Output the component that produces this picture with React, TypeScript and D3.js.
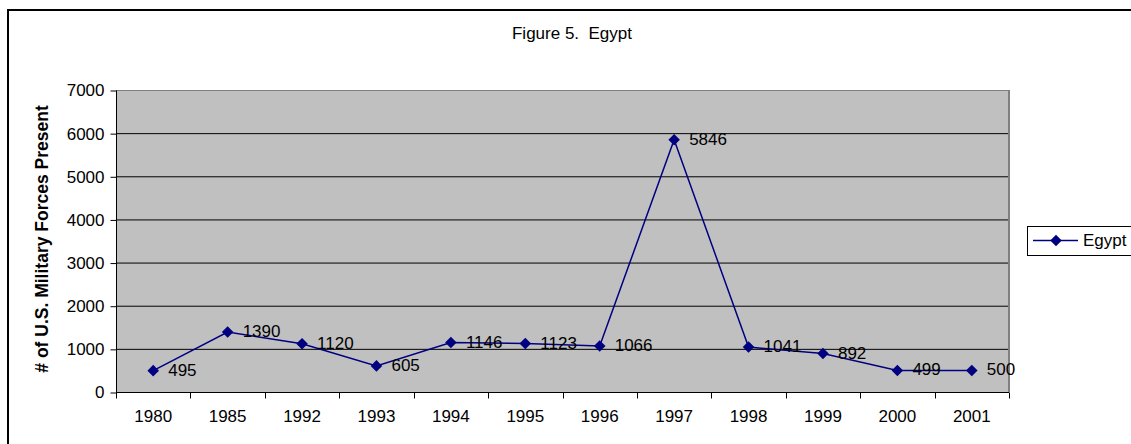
import React, { useEffect, useRef } from "react";
import * as d3 from "d3";

const years = ["1980", "1985", "1992", "1993", "1994", "1995", "1996", "1997", "1998", "1999", "2000", "2001"];
const forces = [495, 1390, 1120, 605, 1146, 1123, 1066, 5846, 1041, 892, 499, 500];
const yTicks = [0, 1000, 2000, 3000, 4000, 5000, 6000, 7000];
const seriesName = "Egypt";
const chartTitle = "Figure 5.  Egypt";
const yTitle = "# of U.S. Military Forces Present";

const App = () => {
  const ref = useRef<SVGSVGElement>(null);

  useEffect(() => {
    const width = 1131;
    const height = 444;
    const font = "'Liberation Sans', Arial, sans-serif";
    const navy = "#000080";
    const left = 116, right = 1009, top = 90, bottom = 392;

    const svg = d3.select(ref.current).attr("width", width).attr("height", height);
    svg.selectAll("*").remove();

    // outer chart frame (runs past the right/bottom edge)
    svg.append("rect")
      .attr("x", 8).attr("y", 10)
      .attr("width", width + 20).attr("height", height + 20)
      .attr("fill", "white").attr("stroke", "black").attr("stroke-width", 2);

    const x = d3.scaleBand().domain(years).range([left, right]);
    const y = d3.scaleLinear().domain([0, 7000]).range([bottom, top]);

    // plot area
    svg.append("rect")
      .attr("x", left).attr("y", top)
      .attr("width", right - left).attr("height", bottom - top)
      .attr("fill", "#C0C0C0");

    // gridlines
    svg.append("g")
      .selectAll("line")
      .data(yTicks.filter((t) => t > 0))
      .enter()
      .append("line")
      .attr("x1", left).attr("x2", right)
      .attr("y1", (d) => y(d) + 0.5).attr("y2", (d) => y(d) + 0.5)
      .attr("stroke", (d) => (d === 7000 ? "#808080" : "#000"))
      .attr("stroke-width", 1);

    // plot border right side
    svg.append("line")
      .attr("x1", right).attr("x2", right)
      .attr("y1", top).attr("y2", bottom)
      .attr("stroke", "#808080").attr("stroke-width", 2);

    // y axis
    const yAxis = svg.append("g").attr("transform", `translate(${left + 0.5},0.5)`)
      .call(d3.axisLeft(y).tickValues(yTicks).tickFormat(d3.format("d")).tickSize(6).tickPadding(6));
    yAxis.select(".domain").attr("stroke", "#000").attr("d", `M0,${top}V${bottom}`);
    yAxis.selectAll("text").attr("font-family", font).attr("font-size", 17).attr("fill", "#000");

    // x axis with ticks between categories
    const xg = svg.append("g").attr("transform", `translate(0,${bottom + 0.5})`);
    xg.append("line").attr("x1", left).attr("x2", right).attr("stroke", "#000");
    const bounds = years.map((yr) => x(yr) as number).concat([right]);
    xg.selectAll("line.tk")
      .data(bounds)
      .enter()
      .append("line")
      .attr("class", "tk")
      .attr("x1", (d) => Math.round(d) + 0.5).attr("x2", (d) => Math.round(d) + 0.5)
      .attr("y1", 0).attr("y2", 6)
      .attr("stroke", "#000");
    xg.selectAll("text")
      .data(years)
      .enter()
      .append("text")
      .attr("x", (d) => (x(d) as number) + x.bandwidth() / 2)
      .attr("y", 29)
      .attr("text-anchor", "middle")
      .attr("font-family", font).attr("font-size", 17)
      .text((d) => d);

    const cx = (i: number) => (x(years[i]) as number) + x.bandwidth() / 2;

    // line
    const line = d3.line<number>()
      .x((d, i) => cx(i))
      .y((d) => y(d));
    svg.append("path")
      .datum(forces)
      .attr("d", line)
      .attr("fill", "none")
      .attr("stroke", navy)
      .attr("stroke-width", 1.5);

    const diamond = d3.symbol().type(d3.symbolDiamond2).size(85);

    // markers
    svg.append("g")
      .selectAll("path")
      .data(forces)
      .enter()
      .append("path")
      .attr("d", diamond)
      .attr("transform", (d, i) => `translate(${cx(i)},${y(d)})`)
      .attr("fill", navy);

    // data labels
    svg.append("g")
      .selectAll("text")
      .data(forces)
      .enter()
      .append("text")
      .attr("x", (d, i) => cx(i) + 15)
      .attr("y", (d) => y(d) + 5)
      .attr("font-family", font).attr("font-size", 17)
      .attr("fill", "#000")
      .text((d) => d);

    // title
    svg.append("text")
      .attr("x", 572).attr("y", 39)
      .attr("text-anchor", "middle")
      .attr("font-family", font).attr("font-size", 17)
      .style("white-space", "pre")
      .text(chartTitle);

    // y axis title
    svg.append("text")
      .attr("transform", `translate(48,${(top + bottom) / 2 - 2}) rotate(-90)`)
      .attr("text-anchor", "middle")
      .attr("font-family", font).attr("font-size", 17.5).attr("font-weight", "bold")
      .text(yTitle);

    // legend
    const lg = svg.append("g").attr("transform", "translate(1027,226)");
    lg.append("rect").attr("x", 0.5).attr("y", 0.5).attr("width", 140).attr("height", 29)
      .attr("fill", "white").attr("stroke", "#000");
    lg.append("line").attr("x1", 6).attr("x2", 51).attr("y1", 14.5).attr("y2", 14.5)
      .attr("stroke", navy).attr("stroke-width", 1.5);
    lg.append("path").attr("d", diamond).attr("transform", "translate(29,14.5)").attr("fill", navy);
    lg.append("text").attr("x", 56).attr("y", 20)
      .attr("font-family", font).attr("font-size", 17)
      .text(seriesName);
  }, []);

  return (
    <div style={{ position: "absolute", left: 0, top: 0 }}>
      <svg ref={ref} style={{ display: "block" }}></svg>
    </div>
  );
};

export default App;
